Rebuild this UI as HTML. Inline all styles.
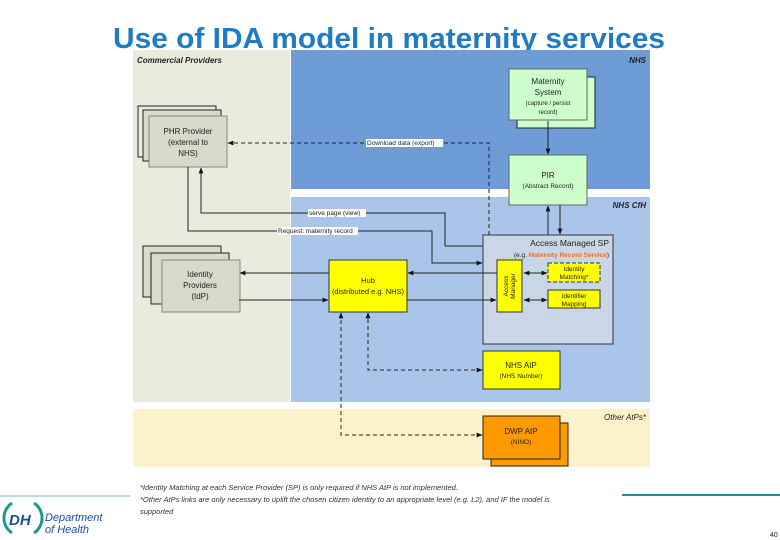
<!DOCTYPE html>
<html><head><meta charset="utf-8"><style>
body{margin:0;background:#fff;}
svg{display:block;font-family:"Liberation Sans",sans-serif;}
</style></head><body>
<svg width="780" height="540" viewBox="0 0 780 540" xmlns="http://www.w3.org/2000/svg">
<defs>
<marker id="a" viewBox="0 0 10 10" refX="9" refY="5" markerWidth="6" markerHeight="6" orient="auto-start-reverse"><path d="M0,1 L10,5 L0,9z" fill="#111"/></marker>
</defs>
<text x="389" y="48" text-anchor="middle" font-size="29" font-weight="bold" fill="#1f7bc4" textLength="552" lengthAdjust="spacingAndGlyphs">Use of IDA model in maternity services</text>
<rect x="133" y="50" width="157" height="352" fill="#e9ecdd"/>
<rect x="291" y="50" width="359" height="139" fill="#6e9cd7"/>
<rect x="291" y="197" width="359" height="205" fill="#aac5ea"/>
<rect x="133" y="409" width="517" height="58" fill="#fdf1cb"/>
<g font-size="8" font-style="italic" font-weight="bold" fill="#222">
<text x="137" y="63">Commercial Providers</text>
<text x="646" y="63" text-anchor="end">NHS</text>
<text x="646" y="208" text-anchor="end">NHS CfH</text>
<text x="646" y="420" text-anchor="end" font-weight="normal">Other AtPs*</text>
</g>
<rect x="138" y="106" width="78" height="51" fill="#e9ecdd" stroke="#222" stroke-width="1"/>
<rect x="143" y="110" width="78" height="51" fill="#d8dccb" stroke="#222" stroke-width="1"/>
<rect x="149" y="116" width="78" height="51" fill="#d6dac8" stroke="#888" stroke-width="1"/>
<text font-size="8" fill="#222" text-anchor="middle"><tspan x="188" y="134">PHR Provider</tspan><tspan x="188" y="145">(external to</tspan><tspan x="188" y="156">NHS)</tspan></text>
<rect x="143" y="246" width="78" height="51" fill="#d8dccb" stroke="#222"/>
<rect x="151" y="253" width="78" height="51" fill="#d8dccb" stroke="#222"/>
<rect x="162" y="260" width="78" height="52" fill="#d6dac8" stroke="#888"/>
<text font-size="8" fill="#222" text-anchor="middle"><tspan x="200" y="277">Identity</tspan><tspan x="200" y="288">Providers</tspan><tspan x="200" y="299">(IdP)</tspan></text>
<rect x="517" y="77" width="78" height="51" fill="#ccffcc" stroke="#222"/>
<rect x="509" y="69" width="78" height="51" fill="#ccffcc" stroke="#666"/>
<text font-size="8" fill="#222" text-anchor="middle"><tspan x="548" y="84">Maternity</tspan><tspan x="548" y="95">System</tspan><tspan x="548" y="105" font-size="6">(capture / persist</tspan><tspan x="548" y="114" font-size="6">record)</tspan></text>
<rect x="509" y="155" width="78" height="50" fill="#ccffcc" stroke="#666"/>
<text font-size="8" fill="#222" text-anchor="middle"><tspan x="548" y="178">PIR</tspan><tspan x="548" y="188" font-size="6.5">(Abstract Record)</tspan></text>
<rect x="483" y="235" width="130" height="109" fill="#c9d6e6" stroke="#333"/>
<text x="609" y="246" font-size="8.5" fill="#222" text-anchor="end">Access Managed SP</text>
<text x="609" y="257" font-size="6.5" fill="#222" text-anchor="end">(e.g. <tspan fill="#f07020" font-weight="bold">Maternity Record Service</tspan>)</text>
<rect x="497" y="260" width="25" height="52" fill="#ffff00" stroke="#333"/>
<text transform="translate(508,286) rotate(-90)" font-size="6.5" text-anchor="middle" fill="#222"><tspan x="0" y="0">Access</tspan><tspan x="0" y="7">Manager</tspan></text>
<rect x="548" y="263" width="52" height="19" fill="#ffff00" stroke="#333" stroke-dasharray="4,2"/>
<text font-size="6.5" fill="#222" text-anchor="middle"><tspan x="574" y="271">Identity</tspan><tspan x="574" y="279">Matching*</tspan></text>
<rect x="548" y="290" width="52" height="18" fill="#ffff00" stroke="#333"/>
<text font-size="6.5" fill="#222" text-anchor="middle"><tspan x="574" y="298">Identifier</tspan><tspan x="574" y="306">Mapping</tspan></text>
<rect x="329" y="260" width="78" height="52" fill="#ffff00" stroke="#333"/>
<text font-size="7.5" fill="#222" text-anchor="middle"><tspan x="368" y="283">Hub</tspan><tspan x="368" y="294">(distributed e.g. NHS)</tspan></text>
<rect x="483" y="351" width="77" height="38" fill="#ffff00" stroke="#333"/>
<text font-size="8" fill="#222" text-anchor="middle"><tspan x="521" y="368">NHS AtP</tspan><tspan x="521" y="378" font-size="6.5">(NHS Number)</tspan></text>
<rect x="491" y="423" width="77" height="43" fill="#ff9900" stroke="#222"/>
<rect x="483" y="416" width="77" height="43" fill="#ff9900" stroke="#222"/>
<text font-size="8" fill="#222" text-anchor="middle"><tspan x="521" y="434">DWP AtP</tspan><tspan x="521" y="444" font-size="6.5">(NINO)</tspan></text>
<g stroke="#222" stroke-width="1" fill="none">
<path d="M489,235 V143 H228" stroke-dasharray="4,3" marker-end="url(#a)"/>
<path d="M548,121 V154" marker-end="url(#a)"/>
<path d="M548,235 V206" marker-end="url(#a)"/>
<path d="M560,205 V234" marker-end="url(#a)"/>
<path d="M445,246 H483 M445,246 V213 H201 V168" marker-end="url(#a)"/>
<path d="M188,167 V231 H432 V263 H482" marker-end="url(#a)"/>
<path d="M329,273 H240" marker-end="url(#a)"/>
<path d="M239,300 H328" marker-end="url(#a)"/>
<path d="M497,273 H408" marker-end="url(#a)"/>
<path d="M407,300 H496" marker-end="url(#a)"/>
<path d="M524,273 H547" marker-start="url(#a)" marker-end="url(#a)"/>
<path d="M524,300 H547" marker-start="url(#a)" marker-end="url(#a)"/>
<path d="M482,370 H368 V313" stroke-dasharray="4,3" marker-start="url(#a)" marker-end="url(#a)"/>
<path d="M482,435 H341 V313" stroke-dasharray="4,3" marker-start="url(#a)" marker-end="url(#a)"/>
</g>
<g font-size="6.5" fill="#222">
<rect x="366" y="139" width="77" height="8" fill="#fff"/><text x="367" y="145">Download data (export)</text>
<rect x="308" y="209" width="58" height="8" fill="#fff"/><text x="309" y="215">serve page (view)</text>
<rect x="277" y="227" width="81" height="8" fill="#fff"/><text x="278" y="233">Request: maternity record</text>
</g>
<g font-size="7.5" font-style="italic" fill="#333">
<text x="140" y="490">*Identity Matching at each Service Provider (SP) is only required if NHS AtP is not implemented.</text>
<text x="140" y="502">*Other AtPs links are only necessary to uplift the chosen citizen identity to an appropriate level (e.g. L2), and IF the model is</text>
<text x="140" y="514">supported</text>
</g>
<rect x="0" y="495" width="130" height="2" fill="#bcd9de"/>
<rect x="622" y="494" width="158" height="2" fill="#2e8a96"/>
<path d="M12,503 A18,18 0 0 0 12,533" stroke="#1a9a8a" stroke-width="3" fill="none"/>
<path d="M34,503 A18,18 0 0 1 34,533" stroke="#1a9a8a" stroke-width="3" fill="none"/>
<text x="9" y="525" font-size="15" font-weight="bold" font-style="italic" fill="#1b4f9c">DH</text>
<text x="45" y="521" font-size="11" font-style="italic" fill="#1b4f9c">Department</text>
<text x="45" y="533" font-size="11" font-style="italic" fill="#1b4f9c">of Health</text>
<text x="770" y="537" font-size="7" fill="#222">40</text>
</svg>
</body></html>
